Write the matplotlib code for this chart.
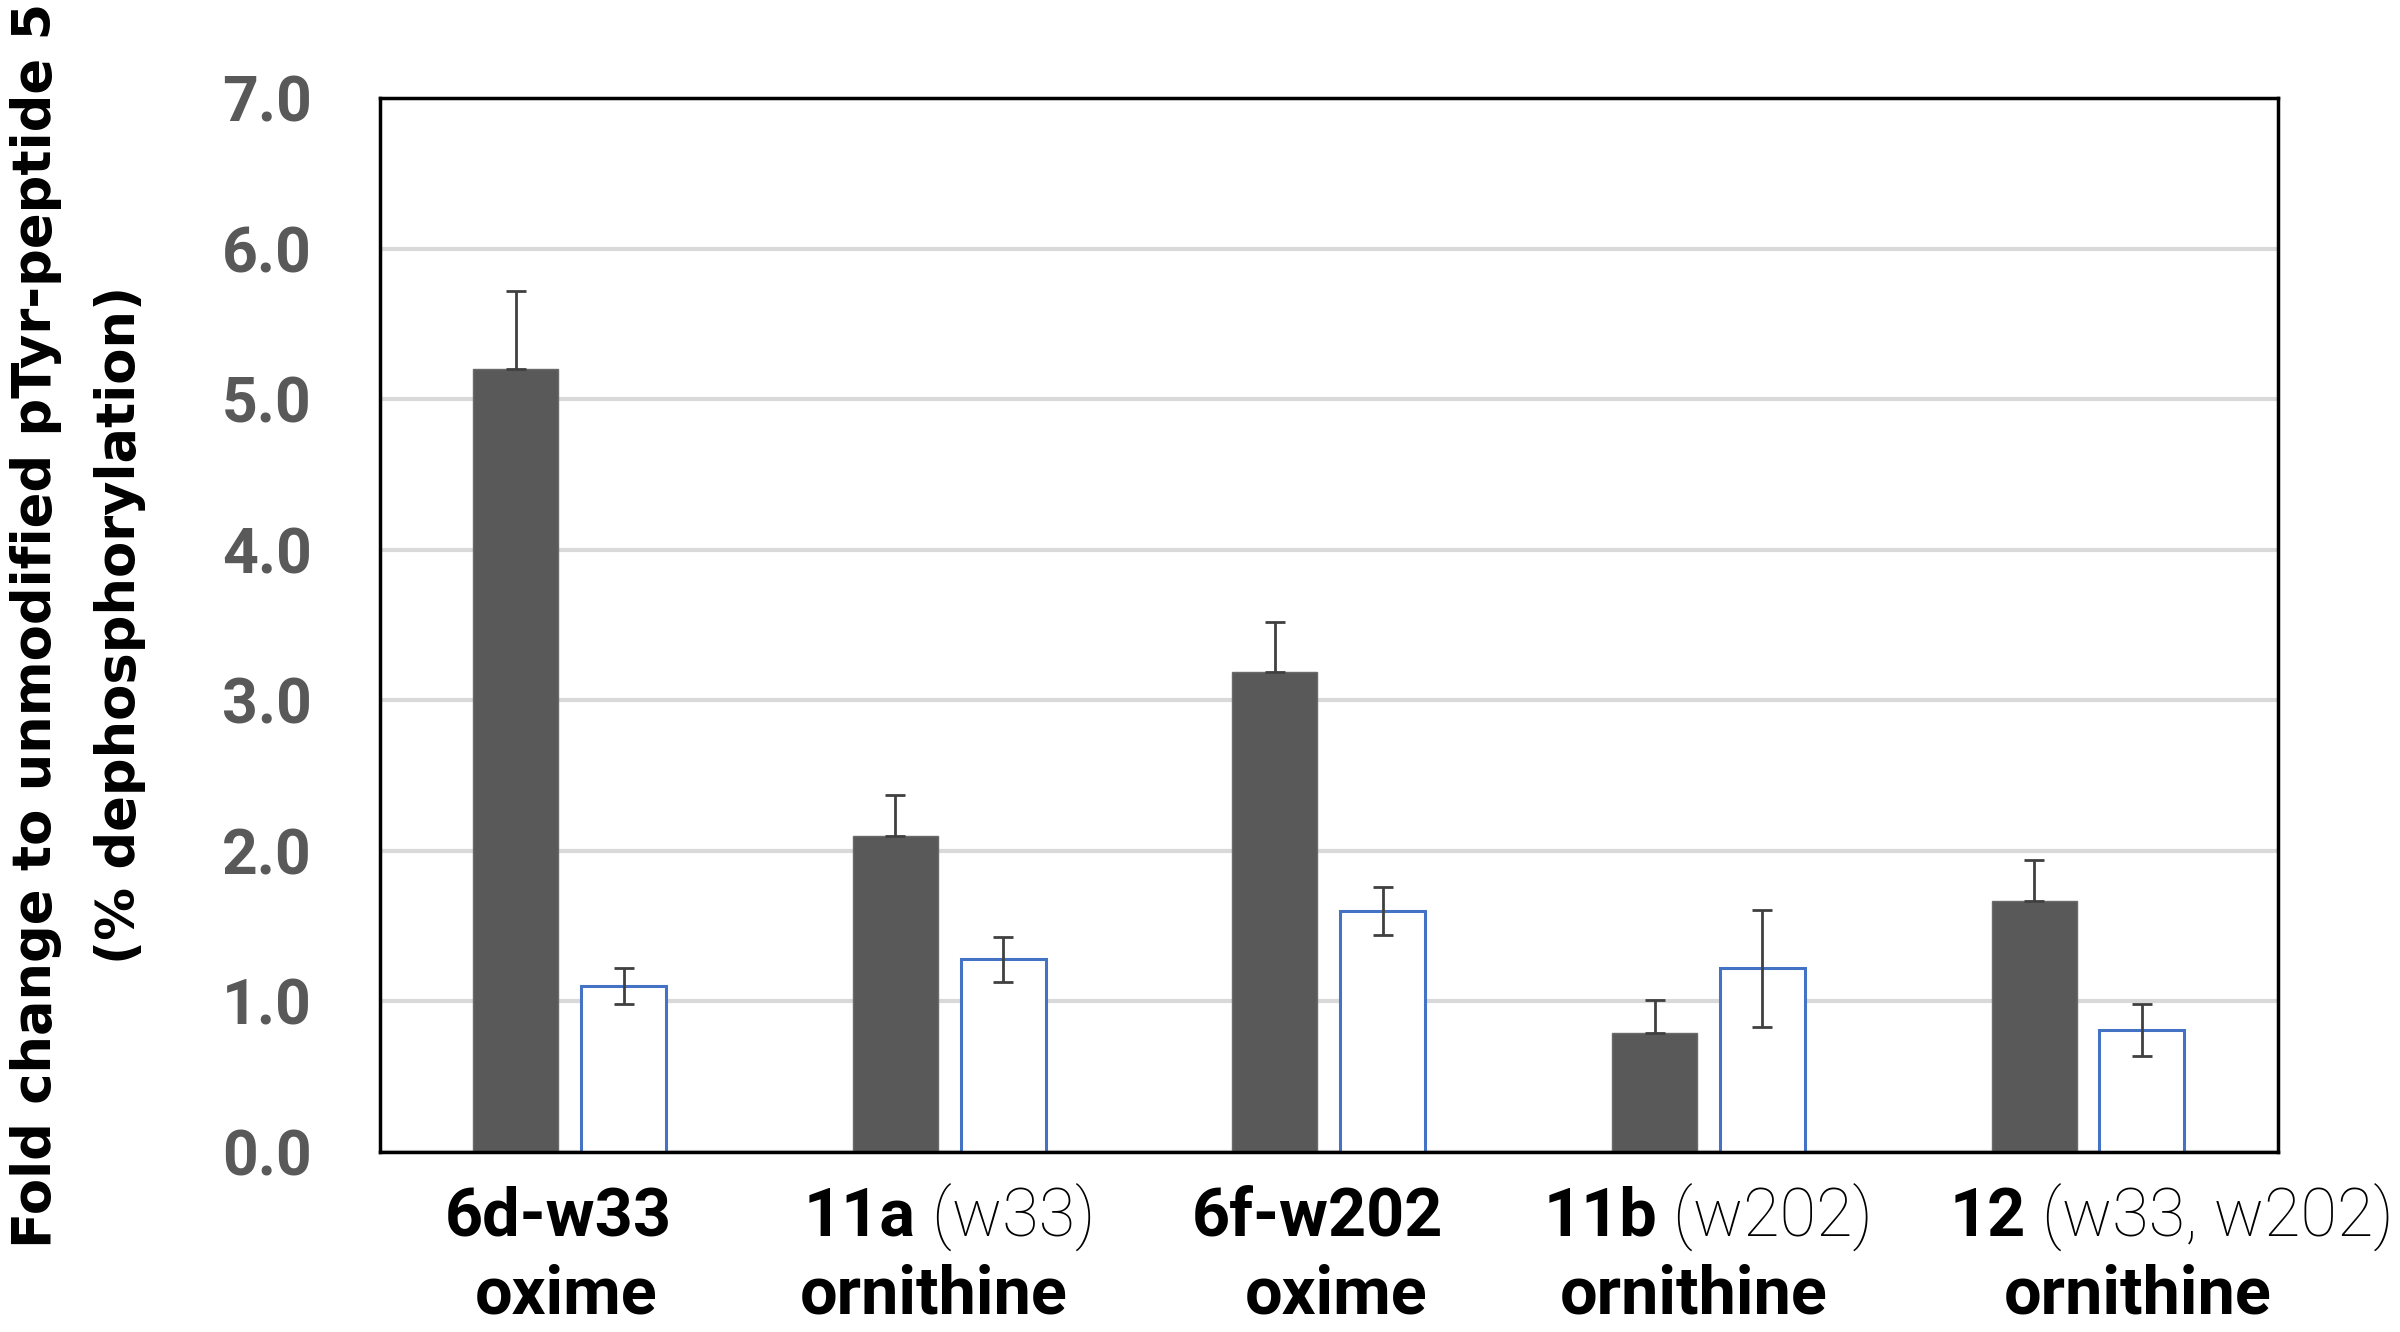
import matplotlib.pyplot as plt
import numpy as np

# data
groups = ['6d-w33', '11a', '6f-w202', '11b', '12']
group_notes = ['', '(w33)', '', '(w202)', '(w33, w202)']
linkers = ['oxime', 'ornithine', 'oxime', 'ornithine', 'ornithine']
dark_vals = [5.20, 2.10, 3.19, 0.79, 1.67]
dark_err = [0.52, 0.27, 0.33, 0.22, 0.27]
open_vals = [1.10, 1.28, 1.60, 1.22, 0.81]
open_err = [0.12, 0.15, 0.16, 0.39, 0.17]
y_ticks = [0.0, 1.0, 2.0, 3.0, 4.0, 5.0, 6.0, 7.0]

# hand placed label nudges (category units), like the text boxes in the original
shift_line1 = [-0.03, 0.0, -0.03, 0.0, 0.22]
shift_line2 = [-0.01, -0.04, 0.02, -0.04, 0.13]

fig = plt.figure(figsize=(24, 13.32), dpi=100)
ax = fig.add_axes([0.1583, 0.1351, 0.7908, 0.7913])

x = np.arange(len(groups))
w = 0.224
off = 0.142

ax.bar(x - off, dark_vals, w, color='#595959', edgecolor='#6a6a6a', linewidth=1, zorder=3)
ax.errorbar(x - off, dark_vals, yerr=[np.zeros(len(dark_err)), dark_err], fmt='none',
            ecolor='#404040', elinewidth=2, capsize=7, capthick=2, zorder=4)
ax.bar(x + off, open_vals, w, color='white', edgecolor='#4472c4', linewidth=2.2, zorder=3)
ax.errorbar(x + off, open_vals, yerr=open_err, fmt='none',
            ecolor='#404040', elinewidth=2, capsize=7, capthick=2, zorder=4)

ax.set_xlim(-0.5, len(groups) - 0.5)
ax.set_ylim(0, 7)
ax.set_yticks(y_ticks)
ax.set_yticklabels(['%.1f' % v for v in y_ticks])
ax.yaxis.grid(True, color='#d9d9d9', linewidth=3, zorder=0)
ax.set_axisbelow(True)
ax.set_xticks([])
ax.tick_params(axis='y', length=0, pad=49, labelsize=45, labelcolor='#595959')
for lab in ax.get_yticklabels():
    lab.set_fontweight('bold')
    lab.set_fontfamily('Roboto')
for sp in ax.spines.values():
    sp.set_color('black')
    sp.set_linewidth(2.5)
    sp.set_zorder(5)

# y axis title, two centred lines
yc = 0.1351 + 0.7913 / 2
fig.text(0.0150, yc, 'Fold change to unmodified pTyr-peptide 5', rotation=90,
         ha='center', va='center', fontsize=38, fontweight='bold', family='DejaVu Sans')
fig.text(0.0500, yc, '(% dephosphorylation)', rotation=90,
         ha='center', va='center', fontsize=38, fontweight='bold', family='DejaVu Sans')

# category labels: bold compound + light note, second line linker type
fig.canvas.draw()
renderer = fig.canvas.get_renderer()
W, H = fig.bbox.width, fig.bbox.height
base1 = 1 - 1236 / 1332
base2 = 1 - 1314 / 1332
for i in range(len(groups)):
    cx = ax.transData.transform((x[i] + shift_line1[i], 0))[0]
    t1 = fig.text(0, base1, groups[i], fontsize=48, fontweight='bold', family='Roboto', va='baseline')
    w1 = t1.get_window_extent(renderer).width
    w2 = 0
    if group_notes[i]:
        t2 = fig.text(0, base1, ' ' + group_notes[i], fontsize=48, fontweight='light',
                      family='Roboto', va='baseline')
        w2 = t2.get_window_extent(renderer).width
        t2.set_x((cx - (w1 + w2) / 2 + w1) / W)
    t1.set_x((cx - (w1 + w2) / 2) / W)
    cx2 = ax.transData.transform((x[i] + shift_line2[i], 0))[0]
    fig.text(cx2 / W, base2, linkers[i], fontsize=48, fontweight='bold', family='Roboto',
             ha='center', va='baseline')

fig.savefig('out.png', dpi=100)
